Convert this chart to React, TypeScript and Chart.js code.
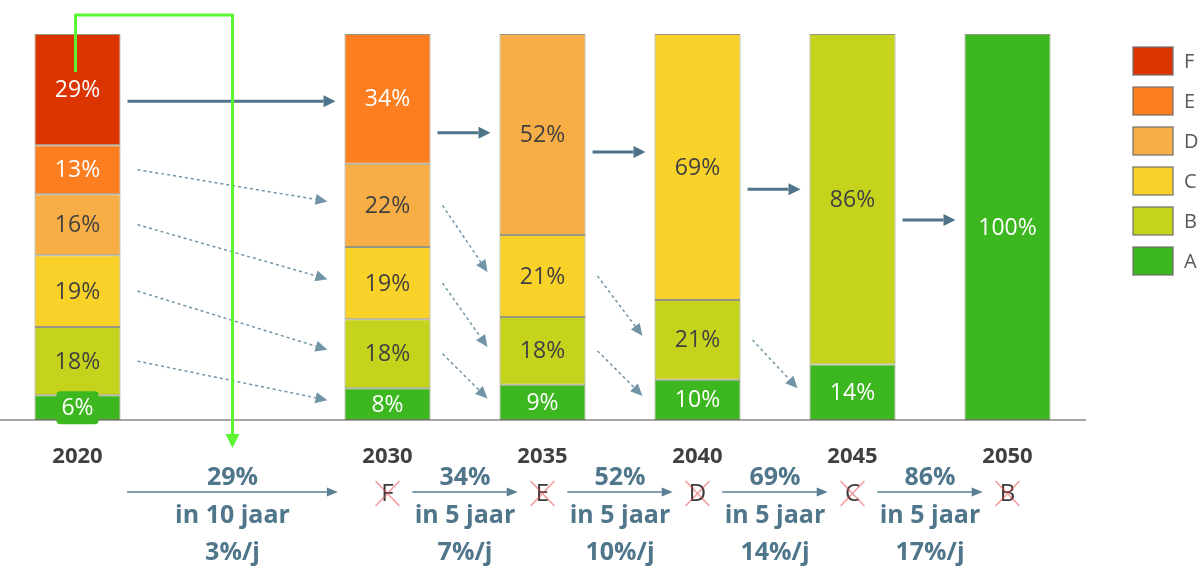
import React, { useEffect, useRef } from 'react';
import { Chart, registerables } from 'chart.js';

Chart.register(...registerables);

// ---- data ----
const years = ['2020', '', '2030', '2035', '2040', '2045', '2050'];
const classNames = ['A', 'B', 'C', 'D', 'E', 'F'];
const classA = [6.4, null, 8.2, 9.1, 10.4, 14.4, 100];
const classB = [17.7, null, 17.9, 17.6, 20.7, 85.6, null];
const classC = [18.6, null, 18.7, 21.2, 68.9, null, null];
const classD = [15.8, null, 21.6, 52.1, null, null, null];
const classE = [12.7, null, 33.6, null, null, null, null];
const classF = [28.8, null, null, null, null, null, null];
const classValues = [classA, classB, classC, classD, classE, classF];

// transitions (category indices)
const transitionFrom = [0, 2, 3, 4, 5];
const transitionTo = [2, 3, 4, 5, 6];
const transitionLevels = [82.6, 74.4, 69.4, 59.8, 51.8];
const rateTexts = ['29%', '34%', '52%', '69%', '86%'];
const periodTexts = ['in 10 jaar', 'in 5 jaar', 'in 5 jaar', 'in 5 jaar', 'in 5 jaar'];
const perYearTexts = ['3%/j', '7%/j', '10%/j', '14%/j', '17%/j'];
const removedClasses = ['F', 'E', 'D', 'C', 'B'];

// ---- style ----
const classColors = ['#3DB71F', '#C5D31D', '#F9D229', '#F8AE46', '#FC7E21', '#DC3400'];
const classTextColors = ['#FFFFFF', '#404040', '#404040', '#404040', '#FFFFFF', '#FFFFFF'];
const FONT = '"Open Sans", "Noto Sans", sans-serif';
const ARROW = '#4E7489';
const NOTE = '#4F768A';

function drawArrow(ctx: CanvasRenderingContext2D, x1: number, y1: number, x2: number, y2: number,
  color: string, lw: number, headLen: number, headHalf: number, dash: number[] = []) {
  const a = Math.atan2(y2 - y1, x2 - x1);
  const bx = x2 - headLen * Math.cos(a);
  const by = y2 - headLen * Math.sin(a);
  ctx.save();
  ctx.strokeStyle = color;
  ctx.fillStyle = color;
  ctx.lineWidth = lw;
  ctx.setLineDash(dash);
  ctx.beginPath();
  ctx.moveTo(x1, y1);
  ctx.lineTo(bx, by);
  ctx.stroke();
  ctx.setLineDash([]);
  ctx.beginPath();
  ctx.moveTo(x2, y2);
  ctx.lineTo(bx - headHalf * Math.sin(a), by + headHalf * Math.cos(a));
  ctx.lineTo(bx + headHalf * Math.sin(a), by - headHalf * Math.cos(a));
  ctx.closePath();
  ctx.fill();
  ctx.restore();
}

function roundRect(ctx: CanvasRenderingContext2D, x: number, y: number, w: number, h: number, r: number) {
  ctx.beginPath();
  ctx.moveTo(x + r, y);
  ctx.lineTo(x + w - r, y);
  ctx.quadraticCurveTo(x + w, y, x + w, y + r);
  ctx.lineTo(x + w, y + h - r);
  ctx.quadraticCurveTo(x + w, y + h, x + w - r, y + h);
  ctx.lineTo(x + r, y + h);
  ctx.quadraticCurveTo(x, y + h, x, y + h - r);
  ctx.lineTo(x, y + r);
  ctx.quadraticCurveTo(x, y, x + r, y);
  ctx.closePath();
}

const overlay = {
  id: 'overlay',
  afterDatasetsDraw(chart: any) {
    const ctx: CanvasRenderingContext2D = chart.ctx;
    const xs = chart.scales.x;
    const ys = chart.scales.y;
    const el = (di: number, i: number) => chart.getDatasetMeta(di).data[i].getProps(['x', 'y', 'base', 'width'], true);
    const topClass = (i: number) => {
      let t = -1;
      classValues.forEach((arr, di) => { if (arr[i] != null) t = di; });
      return t;
    };

    // segment labels
    ctx.save();
    ctx.font = `23px ${FONT}`;
    ctx.textAlign = 'center';
    ctx.textBaseline = 'middle';
    classValues.forEach((arr, di) => {
      arr.forEach((v, i) => {
        if (v == null) return;
        const b = el(di, i);
        const mid = (b.y + b.base) / 2;
        const txt = Math.round(v as number) + '%';
        if (b.base - b.y < 30) {
          const w = ctx.measureText(txt).width + 10;
          ctx.fillStyle = classColors[di];
          roundRect(ctx, b.x - w / 2, mid - 16.5, w, 33, 4);
          ctx.fill();
        }
        ctx.fillStyle = classTextColors[di];
        ctx.fillText(txt, b.x, mid + 1);
      });
    });
    ctx.restore();

    // transition arrows
    transitionFrom.forEach((from, t) => {
      const to = transitionTo[t];
      const s = el(0, from);
      const d = el(0, to);
      const sRight = s.x + s.width / 2;
      const dLeft = d.x - d.width / 2;
      const y = ys.getPixelForValue(transitionLevels[t]);
      drawArrow(ctx, sRight + 7, y, dLeft - 9, y, ARROW, 3, 12, 6);
      const top = topClass(from);
      const inset = to - from > 1 ? 17 : 12;
      for (let c = 1; c < top; c++) {
        const a = el(c, from);
        const b = el(c - 1, to);
        const y1 = (a.y + a.base) / 2;
        const y2 = (b.y + b.base) / 2 - 4;
        drawArrow(ctx, sRight + inset, y1, dLeft - inset, y2, '#7294A7', 1.5, 12, 5.5, [3, 3]);
      }
    });

    // bottom notes
    ctx.save();
    ctx.textAlign = 'center';
    ctx.textBaseline = 'middle';
    transitionFrom.forEach((from, t) => {
      const to = transitionTo[t];
      const x0 = xs.getPixelForValue(from);
      const x1 = xs.getPixelForValue(to);
      const cx = (x0 + x1) / 2;
      const pad = (x1 - x0) * 0.16;
      drawArrow(ctx, x0 + pad, 492, x1 - pad, 492, '#5A7E92', 1.5, 11, 4.5);
      ctx.font = `bold 25px ${FONT}`;
      ctx.fillStyle = NOTE;
      ctx.fillText(rateTexts[t], cx, 478);
      ctx.fillText(periodTexts[t], cx, 516);
      ctx.fillText(perYearTexts[t], cx, 553);
      ctx.font = `24px ${FONT}`;
      ctx.fillStyle = '#3A3A3A';
      ctx.fillText(removedClasses[t], x1, 494);
      ctx.strokeStyle = 'rgba(235,70,70,0.55)';
      ctx.lineWidth = 1.5;
      ctx.beginPath();
      ctx.moveTo(x1 - 12, 481); ctx.lineTo(x1 + 12, 506);
      ctx.moveTo(x1 + 12, 481); ctx.lineTo(x1 - 12, 506);
      ctx.stroke();
    });
    ctx.restore();

    // green pointer path
    const f = el(5, 0);
    const gx0 = f.x - 2;
    const gx1 = (xs.getPixelForValue(transitionFrom[0]) + xs.getPixelForValue(transitionTo[0])) / 2;
    ctx.save();
    ctx.strokeStyle = '#5CF532';
    ctx.fillStyle = '#5CF532';
    ctx.lineWidth = 3;
    ctx.lineJoin = 'round';
    ctx.beginPath();
    ctx.moveTo(gx0, f.y + 38);
    ctx.lineTo(gx0, 15);
    ctx.lineTo(gx1, 15);
    ctx.lineTo(gx1, 436);
    ctx.stroke();
    ctx.beginPath();
    ctx.moveTo(gx1, 448);
    ctx.lineTo(gx1 - 7, 434);
    ctx.lineTo(gx1 + 7, 434);
    ctx.closePath();
    ctx.fill();
    ctx.restore();

    // legend
    ctx.save();
    ctx.font = `20px ${FONT}`;
    ctx.textAlign = 'left';
    ctx.textBaseline = 'middle';
    for (let k = classNames.length - 1, row = 0; k >= 0; k--, row++) {
      const top = 47 + row * 40;
      ctx.fillStyle = classColors[k];
      ctx.fillRect(1133, top, 40, 28);
      ctx.strokeStyle = 'rgba(110,110,110,0.8)';
      ctx.lineWidth = 1.5;
      ctx.strokeRect(1133, top, 40, 28);
      ctx.fillStyle = '#595959';
      ctx.fillText(classNames[k], 1184, top + 15);
    }
    ctx.restore();
  },
};

export default function App() {
  const ref = useRef<HTMLCanvasElement>(null);
  useEffect(() => {
    const canvas = ref.current!;
    const datasets = classValues.map((arr, di) => ({
      label: classNames[di],
      data: arr,
      backgroundColor: classColors[di],
      borderColor: 'rgba(80,80,50,0.6)',
      borderWidth: 1,
      borderSkipped: false as any,
      categoryPercentage: 1,
      barPercentage: 0.555,
    }));
    const chart = new Chart(canvas, {
      type: 'bar',
      data: { labels: years, datasets: datasets as any },
      options: {
        responsive: false,
        animation: false,
        events: [],
        layout: { padding: { left: -3, right: 113, top: 34, bottom: 0 } },
        plugins: { legend: { display: false }, tooltip: { enabled: false } },
        scales: {
          x: {
            stacked: true,
            grid: { display: false },
            border: { display: true, color: '#A6A6A6', width: 2 },
            ticks: {
              font: { family: FONT, size: 22, weight: 'bold' },
              color: '#404040',
              padding: 16,
              autoSkip: false,
              maxRotation: 0,
            },
            afterFit: (s: any) => { s.height = 152; },
          },
          y: { stacked: true, display: false, min: 0, max: 100 },
        },
      },
      plugins: [overlay],
    });
    return () => chart.destroy();
  }, []);
  return (
    <div style={{ position: 'fixed', left: 0, top: 0, width: 1198, height: 572, background: '#fff' }}>
      <canvas ref={ref} width={1198} height={572} style={{ width: 1198, height: 572, display: 'block' }} />
    </div>
  );
}
